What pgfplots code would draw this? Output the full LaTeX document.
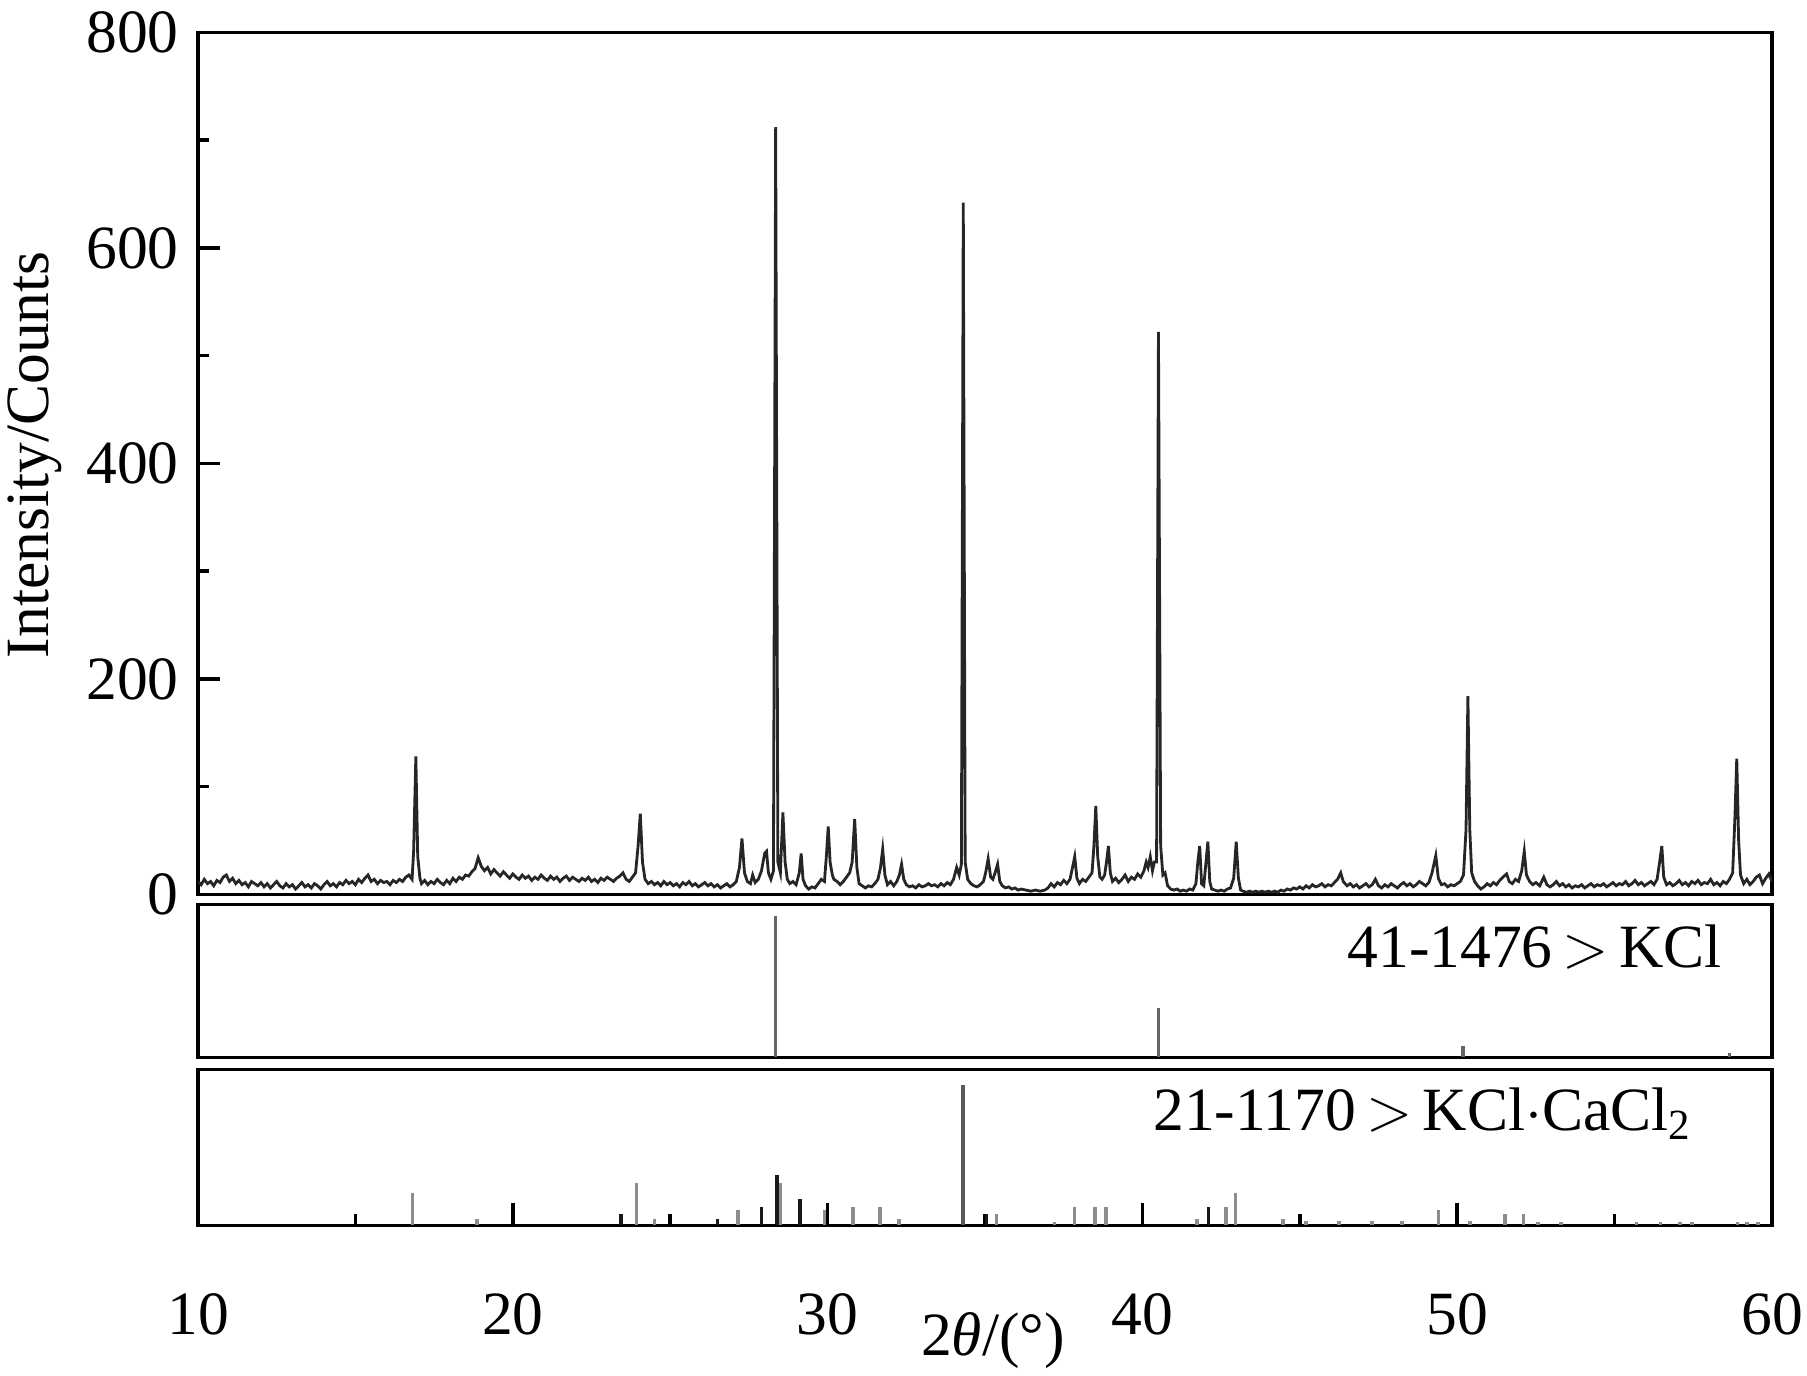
\documentclass[border=0pt]{standalone}
\usepackage{fontspec}
\setmainfont{Liberation Serif}
\usepackage{pgfplots}
\pgfplotsset{compat=1.18}

\pgfplotsset{
  xrdpanel/.style={
    scale only axis, width=15.74cm, anchor=south west,
    xmin=10, xmax=60,
    axis line style={line width=1pt},
    tick style={line width=1pt, black},
    tick align=inside,
    major tick length=0.22cm, minor tick length=0.11cm,
    font=\fontsize{17.5}{21}\selectfont,
    /pgf/number format/assume math mode=true,
  },
  stick/.style={ycomb, mark=none, line width=1pt},
}

\begin{document}
\begin{tikzpicture}
% measured pattern
\begin{axis}[xrdpanel, at={(0,3.31cm)}, height=8.62cm,
  ymin=0, ymax=800, ytick={0,200,...,800}, minor y tick num=1,
  ytick pos=left, xtick=\empty,
  yticklabel style={xshift=-0.07cm},
  ylabel={Intensity/Counts},
  ylabel style={at={(axis description cs:-0.104,0.51)}, anchor=center, inner sep=0pt},
]
\addplot[black!85, line width=0.8pt, mark=none] table {
x y
10.0 12
10.1 9
10.2 14
10.3 10
10.4 12
10.5 8
10.6 13
10.7 11
10.8 16
10.9 18
11.0 12
11.1 15
11.2 10
11.3 13
11.4 9
11.5 11
11.6 7
11.7 12
11.8 10
11.9 8
12.0 11
12.1 7
12.2 10
12.3 6
12.4 9
12.5 12
12.6 8
12.7 6
12.8 10
12.9 7
13.0 9
13.1 5
13.2 8
13.3 11
13.4 7
13.5 9
13.6 6
13.7 10
13.8 8
13.9 5
14.0 9
14.1 12
14.2 8
14.3 10
14.4 7
14.5 11
14.6 9
14.7 13
14.8 10
14.9 12
15.0 9
15.1 14
15.2 11
15.3 15
15.4 18
15.5 12
15.6 14
15.7 10
15.8 13
15.9 11
16.0 12
16.1 9
16.2 13
16.3 11
16.4 14
16.5 12
16.6 16
16.7 18
16.8 14
16.85 40
16.92 128
16.98 35
17.05 15
17.1 10
17.2 13
17.3 9
17.4 12
17.5 10
17.6 14
17.7 11
17.8 9
17.9 13
18.0 10
18.1 15
18.2 12
18.3 16
18.4 14
18.5 18
18.6 17
18.7 21
18.8 24
18.9 34
19.0 26
19.1 22
19.2 25
19.3 19
19.4 23
19.5 20
19.6 17
19.7 21
19.8 18
19.9 15
20.0 19
20.1 16
20.2 14
20.3 18
20.4 15
20.5 17
20.6 13
20.7 16
20.8 14
20.9 18
21.0 15
21.1 13
21.2 17
21.3 14
21.4 16
21.5 12
21.6 15
21.7 17
21.8 13
21.9 16
22.0 14
22.1 12
22.2 15
22.3 13
22.4 16
22.5 12
22.6 14
22.7 11
22.8 15
22.9 13
23.0 16
23.1 14
23.2 12
23.3 15
23.4 17
23.5 20
23.6 14
23.7 12
23.8 16
23.9 20
23.98 45
24.05 75
24.12 30
24.2 14
24.3 10
24.4 12
24.5 9
24.6 11
24.7 8
24.8 12
24.9 9
25.0 11
25.1 8
25.2 10
25.3 7
25.4 11
25.5 9
25.6 12
25.7 8
25.8 10
25.9 7
26.0 9
26.1 11
26.2 8
26.3 10
26.4 7
26.5 9
26.6 6
26.7 8
26.8 10
26.9 7
27.0 9
27.1 12
27.2 25
27.28 52
27.36 20
27.45 12
27.55 10
27.62 18
27.7 11
27.8 14
27.9 22
28.0 38
28.06 40
28.12 20
28.2 14
28.28 22
28.35 712
28.42 30
28.5 20
28.58 76
28.65 30
28.72 14
28.8 10
28.9 12
29.0 9
29.1 20
29.16 38
29.22 14
29.3 8
29.4 5
29.5 7
29.6 6
29.7 10
29.8 14
29.9 12
29.96 35
30.02 63
30.08 30
30.15 18
30.2 14
30.3 12
30.4 9
30.5 12
30.6 16
30.7 20
30.78 30
30.86 70
30.93 25
31.0 10
31.1 8
31.2 6
31.3 8
31.4 7
31.5 10
31.6 14
31.68 25
31.75 42
31.82 18
31.9 9
32.0 12
32.1 8
32.2 12
32.28 18
32.35 28
32.42 14
32.5 9
32.6 7
32.7 8
32.8 6
32.9 9
33.0 7
33.1 8
33.2 10
33.3 8
33.4 9
33.5 7
33.6 10
33.7 8
33.8 11
33.9 9
34.0 14
34.1 25
34.18 18
34.25 28
34.31 642
34.37 30
34.45 14
34.55 10
34.65 8
34.75 7
34.85 9
34.95 12
35.02 20
35.1 33
35.18 16
35.25 14
35.32 20
35.4 28
35.47 12
35.55 8
35.65 6
35.75 7
35.85 5
35.95 6
36.05 4
36.15 5
36.3 4
36.45 3
36.6 4
36.75 3
36.9 4
37.0 6
37.1 10
37.2 7
37.3 11
37.4 9
37.5 13
37.6 10
37.7 14
37.78 25
37.85 35
37.92 15
38.0 10
38.1 14
38.2 12
38.3 16
38.4 20
38.46 45
38.52 82
38.58 35
38.65 16
38.72 14
38.8 18
38.86 30
38.92 45
38.98 20
39.05 12
39.15 15
39.25 11
39.35 14
39.45 18
39.55 12
39.65 16
39.75 14
39.85 19
39.95 16
40.05 22
40.12 30
40.18 25
40.25 35
40.32 22
40.38 30
40.45 30
40.51 522
40.58 45
40.65 18
40.72 20
40.8 8
40.9 5
41.0 4
41.1 5
41.2 3
41.3 4
41.4 3
41.5 5
41.6 4
41.7 10
41.76 30
41.82 45
41.88 10
41.95 8
42.02 30
42.08 49
42.14 12
42.2 5
42.3 4
42.4 3
42.5 4
42.6 3
42.7 5
42.8 6
42.9 15
42.98 49
43.05 15
43.12 4
43.2 3
43.3 2
43.4 3
43.5 2
43.6 3
43.7 2
43.8 3
43.9 2
44.0 3
44.1 2
44.2 3
44.3 2
44.4 4
44.5 3
44.6 5
44.7 4
44.8 6
44.9 5
45.0 7
45.1 5
45.2 8
45.3 6
45.4 9
45.5 7
45.6 8
45.7 10
45.8 7
45.9 9
46.0 8
46.1 11
46.2 14
46.3 20
46.38 12
46.5 8
46.6 10
46.7 7
46.8 9
46.9 6
47.0 8
47.1 10
47.2 7
47.3 9
47.4 14
47.5 8
47.6 6
47.7 9
47.8 7
47.9 10
48.0 8
48.1 6
48.2 9
48.3 11
48.4 8
48.5 10
48.6 7
48.7 9
48.8 12
48.9 10
49.0 8
49.1 11
49.2 20
49.32 36
49.4 15
49.5 9
49.6 10
49.7 7
49.8 9
49.9 8
50.0 10
50.1 12
50.2 18
50.28 60
50.34 184
50.4 60
50.46 20
50.55 12
50.65 8
50.75 5
50.85 7
50.95 10
51.05 8
51.15 11
51.25 9
51.35 13
51.45 16
51.57 19
51.65 12
51.75 10
51.85 14
51.95 12
52.05 22
52.13 40
52.2 18
52.3 12
52.4 9
52.5 11
52.62 8
52.75 16
52.85 9
52.95 7
53.05 9
53.15 12
53.25 8
53.35 10
53.45 7
53.55 9
53.65 6
53.75 8
53.85 7
53.95 9
54.05 6
54.15 8
54.25 10
54.35 7
54.45 9
54.55 8
54.65 10
54.75 7
54.85 9
54.95 11
55.05 8
55.15 10
55.25 9
55.35 12
55.45 8
55.55 10
55.65 13
55.75 9
55.85 11
55.95 8
56.05 10
56.15 12
56.25 9
56.35 14
56.43 30
56.5 45
56.56 16
56.65 9
56.75 11
56.85 8
56.95 10
57.05 13
57.15 9
57.25 11
57.35 8
57.45 12
57.55 10
57.65 13
57.75 9
57.85 11
57.95 10
58.05 14
58.15 9
58.25 11
58.35 8
58.45 12
58.55 10
58.65 14
58.75 20
58.82 70
58.88 126
58.94 50
59.0 18
59.1 10
59.2 14
59.3 9
59.4 12
59.5 16
59.6 18
59.7 10
59.8 15
59.9 19
60.0 12
};
\end{axis}

% reference 41-1476 KCl
\begin{axis}[xrdpanel, at={(0,1.68cm)}, height=1.53cm,
  ymin=0, ymax=108, xtick=\empty, ytick=\empty]
\addplot[stick, black!60] coordinates {(28.35,100) (40.51,35) (50.18,8) (58.65,3)};
\node[anchor=base east] at (rel axis cs:0.976,0.59) {41-1476\,$>$\,KCl};
\end{axis}

% reference 21-1170 KCl.CaCl2
\begin{axis}[xrdpanel, at={(0,0)}, height=1.56cm,
  ymin=0, ymax=100, ytick=\empty,
  xtick={10,20,...,60}, minor x tick num=1, xtick pos=bottom,
  xticklabel style={inner sep=0pt, yshift=-0.67cm},
  xlabel={2\textit{θ}/(°)},
  xlabel style={at={(axis description cs:0.505,-0.74)}, anchor=center, inner sep=0pt},
]
\addplot[stick, black!45] coordinates {
(16.82,21) (18.86,4) (23.93,27) (24.5,4) (27.15,10) (28.5,27)
(29.9,10) (30.8,12) (31.67,12) (32.27,4) (35.37,7) (37.2,2)
(37.85,12) (38.5,12) (38.85,12) (41.73,4) (42.65,12) (42.95,21)
(44.47,4) (45.2,3) (46.24,3) (47.3,3) (48.24,3) (49.4,10) (50.4,3)
(51.52,7) (52.1,7) (52.57,2) (53.3,2) (55.7,2) (56.45,2) (57.07,2)
(57.45,2) (58.9,2) (59.2,2) (59.55,2)};
\addplot[stick, black!65] coordinates {(34.3,90)};
\addplot[stick, black!90] coordinates {
(23.44,7) (26.5,4) (27.9,12) (28.4,32) (29.12,17) (35.05,7) (42.1,12)};
\node[anchor=base east] at (rel axis cs:0.957,0.61) {21-1170\,$>$\,KCl$\cdot$CaCl\textsubscript{2}};
\end{axis}

\path (-1.98cm,-1.50cm) rectangle (16.09cm,12.24cm);
\end{tikzpicture}
\end{document}
